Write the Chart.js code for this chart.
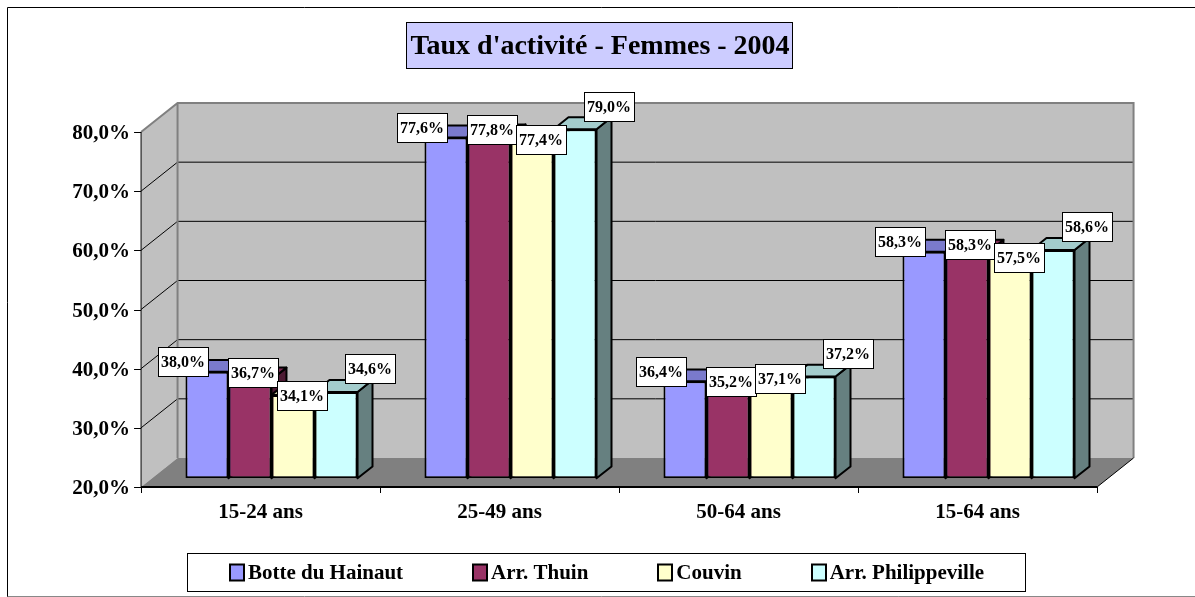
<!DOCTYPE html>
<html lang="fr">
<head>
<meta charset="utf-8">
<title>Taux d'activité - Femmes - 2004</title>
<script src="https://cdn.jsdelivr.net/npm/chart.js@4.4.1/dist/chart.umd.min.js"></script>
<style>
  html, body { margin: 0; padding: 0; background: #fff; }
  #wrap { width: 1195px; height: 597px; }
</style>
</head>
<body>
<div id="wrap"><canvas id="chart" width="1195" height="597"></canvas></div>
<script>
// ---------- DATA ----------
const chartTitle = "Taux d'activité - Femmes - 2004";
const categories = ["15-24 ans", "25-49 ans", "50-64 ans", "15-64 ans"];
const seriesNames = ["Botte du Hainaut", "Arr. Thuin", "Couvin", "Arr. Philippeville"];
const botteDuHainaut = [38.0, 77.6, 36.4, 58.3];
const arrThuin = [36.7, 77.8, 35.2, 58.3];
const couvin = [34.1, 77.4, 37.1, 57.5];
const arrPhilippeville = [34.6, 79.0, 37.2, 58.6];
const yTicks = [20, 30, 40, 50, 60, 70, 80];

// ---------- LOOK ----------
const FONT = '"Liberation Serif", "Times New Roman", serif';
const DEPTH_X = 36.5;   // how far the floor goes back, in px
const DEPTH_Y = -29;
const BAR_FRONT = 0.3;  // bars sit between these depth fractions
const BAR_BACK = 0.71;
const frontColors = ["#9999ff", "#993366", "#ffffcc", "#ccffff"];
const labelNudge = [[-24, -10], [3, -7], [9, 1], [34, -23]]; // per series label offset

function shade(hex, k) {
  const n = parseInt(hex.slice(1), 16);
  const r = Math.round(((n >> 16) & 255) * k);
  const g = Math.round(((n >> 8) & 255) * k);
  const b = Math.round((n & 255) * k);
  return `rgb(${r},${g},${b})`;
}

function fmt(v) {
  return v.toFixed(1).replace(".", ",") + "%";
}

function poly(ctx, pts, fill, stroke, lw) {
  ctx.beginPath();
  ctx.moveTo(pts[0][0], pts[0][1]);
  for (let i = 1; i < pts.length; i++) ctx.lineTo(pts[i][0], pts[i][1]);
  ctx.closePath();
  if (fill) { ctx.fillStyle = fill; ctx.fill(); }
  if (stroke) { ctx.strokeStyle = stroke; ctx.lineWidth = lw || 1; ctx.stroke(); }
}

function line(ctx, x1, y1, x2, y2, color, lw) {
  ctx.beginPath();
  ctx.moveTo(x1, y1);
  ctx.lineTo(x2, y2);
  ctx.strokeStyle = color;
  ctx.lineWidth = lw;
  ctx.stroke();
}

// ---------- 3D SCENE PLUGIN ----------
const scene3d = {
  id: "scene3d",
  beforeDatasetsDraw(chart) {
    const { ctx, chartArea, scales } = chart;
    const y = scales.y, x = scales.x;
    // shift from the bar plane to the front plane
    const fx = -BAR_FRONT * DEPTH_X, fy = -BAR_FRONT * DEPTH_Y;
    const left = chartArea.left + fx, right = chartArea.right + fx;
    const yTop = y.getPixelForValue(yTicks[yTicks.length - 1]) + fy;
    const yBot = y.getPixelForValue(yTicks[0]) + fy;
    const DX = DEPTH_X, DY = DEPTH_Y;

    ctx.save();
    ctx.lineJoin = "miter";

    // walls + floor
    poly(ctx, [[left + DX, yTop + DY], [right + DX, yTop + DY], [right + DX, yBot + DY], [left + DX, yBot + DY]], "#c0c0c0");
    poly(ctx, [[left, yTop], [left + DX, yTop + DY], [left + DX, yBot + DY], [left, yBot]], "#c0c0c0");
    poly(ctx, [[left, yBot], [right, yBot], [right + DX, yBot + DY], [left + DX, yBot + DY]], "#808080");

    // gridlines (side wall diagonal + back wall)
    yTicks.slice(1, -1).forEach((v) => {
      const py = y.getPixelForValue(v) + fy;
      ctx.beginPath();
      ctx.moveTo(left, py);
      ctx.lineTo(left + DX, py + DY);
      ctx.lineTo(right + DX, py + DY);
      ctx.strokeStyle = "#000";
      ctx.lineWidth = 1;
      ctx.stroke();
    });

    // wall outlines
    ctx.beginPath();
    ctx.moveTo(left, yTop);
    ctx.lineTo(left + DX, yTop + DY);
    ctx.lineTo(right + DX, yTop + DY);
    ctx.lineTo(right + DX, yBot + DY);
    ctx.moveTo(left + DX, yTop + DY);
    ctx.lineTo(left + DX, yBot + DY);
    ctx.strokeStyle = "#808080";
    ctx.lineWidth = 2;
    ctx.stroke();

    // floor edges
    line(ctx, right, yBot, right + DX, yBot + DY, "#000", 1);
    line(ctx, left, yBot, right, yBot, "#000", 2);

    // value axis
    line(ctx, left, yTop, left, yBot, "#000", 1);
    ctx.font = "bold 21px " + FONT;
    ctx.fillStyle = "#000";
    ctx.textAlign = "right";
    ctx.textBaseline = "middle";
    yTicks.forEach((v) => {
      const py = Math.round(y.getPixelForValue(v) + fy) + 0.5;
      line(ctx, left - 7, py, left, py, "#000", 1);
      ctx.fillText(fmt(v), left - 11, py + 1);
    });

    // category axis ticks + labels
    const step = (right - left) / categories.length;
    for (let i = 0; i <= categories.length; i++) {
      const px = Math.round(left + i * step) + 0.5;
      line(ctx, px, yBot, px, yBot + 6, "#000", 1);
    }
    ctx.textAlign = "center";
    categories.forEach((c, i) => {
      ctx.fillText(c, x.getPixelForValue(i) + fx, yBot + 26);
    });

    // top + side faces of the bars
    const bx = (BAR_BACK - BAR_FRONT) * DX, by = (BAR_BACK - BAR_FRONT) * DY;
    ctx.lineJoin = "round";
    categories.forEach((c, i) => {
      chart.data.datasets.forEach((ds, d) => {
        const el = chart.getDatasetMeta(d).data[i];
        const p = el.getProps(["x", "y", "base", "width"], true);
        const L = p.x - p.width / 2, R = p.x + p.width / 2;
        const col = frontColors[d];
        poly(ctx, [[R, p.y], [R + bx, p.y + by], [R + bx, p.base + by], [R, p.base]], shade(col, 0.5), "#000", 2);
        poly(ctx, [[L, p.y], [R, p.y], [R + bx, p.y + by], [L + bx, p.y + by]], shade(col, 0.8), "#000", 2);
      });
    });
    ctx.restore();
  },

  afterDatasetsDraw(chart) {
    const { ctx } = chart;
    ctx.save();
    // data labels
    ctx.font = "bold 16px " + FONT;
    ctx.textAlign = "center";
    ctx.textBaseline = "middle";
    chart.data.datasets.forEach((ds, d) => {
      chart.getDatasetMeta(d).data.forEach((el, i) => {
        const p = el.getProps(["x", "y"], true);
        const txt = fmt(ds.data[i]);
        const w = Math.round(ctx.measureText(txt).width) + 6;
        const h = 29;
        const cx = p.x + labelNudge[d][0], cy = p.y + labelNudge[d][1];
        const bxl = Math.round(cx - w / 2) + 0.5, byt = Math.round(cy - h / 2) + 0.5;
        ctx.fillStyle = "#fff";
        ctx.fillRect(bxl, byt, w, h);
        ctx.strokeStyle = "#000";
        ctx.lineWidth = 1;
        ctx.strokeRect(bxl, byt, w, h);
        ctx.fillStyle = "#000";
        ctx.fillText(txt, cx, byt + h / 2 + 1);
      });
    });
    ctx.restore();
  },

  afterDraw(chart) {
    const { ctx } = chart;
    ctx.save();
    // outer frame
    line(ctx, 7.5, 7.5, 1195, 7.5, "#000", 1);
    line(ctx, 7.5, 7.5, 7.5, 597, "#000", 1);
    line(ctx, 7.5, 596.5, 1195, 596.5, "#888", 1);

    // title box
    ctx.fillStyle = "#ccccff";
    ctx.fillRect(406.5, 22.5, 386, 46);
    ctx.strokeStyle = "#000";
    ctx.lineWidth = 1;
    ctx.strokeRect(406.5, 22.5, 386, 46);
    ctx.font = "bold 28px " + FONT;
    ctx.fillStyle = "#000";
    ctx.textAlign = "center";
    ctx.textBaseline = "middle";
    ctx.fillText(chartTitle, 600, 47);

    // legend
    const lx = 187.5, ly = 553.5, lw = 838, lh = 38;
    ctx.fillStyle = "#fff";
    ctx.fillRect(lx, ly, lw, lh);
    ctx.strokeStyle = "#000";
    ctx.strokeRect(lx, ly, lw, lh);
    ctx.font = "bold 21px " + FONT;
    const box = 16, gapText = 3, gapItem = 69;
    const widths = seriesNames.map((s) => box + gapText + ctx.measureText(s).width);
    const total = widths.reduce((a, b) => a + b, 0) + gapItem * (seriesNames.length - 1);
    let px = lx + (lw - total) / 2;
    const cy = ly + lh / 2;
    ctx.textAlign = "left";
    seriesNames.forEach((s, i) => {
      ctx.fillStyle = frontColors[i];
      ctx.fillRect(Math.round(px) + 1, cy - box / 2, box - 2, box);
      ctx.strokeStyle = "#000";
      ctx.lineWidth = 2;
      ctx.strokeRect(Math.round(px) + 1, cy - box / 2, box - 2, box);
      ctx.fillStyle = "#000";
      ctx.fillText(s, px + box + gapText, cy + 1);
      px += widths[i] + gapItem;
    });
    ctx.restore();
  }
};

// ---------- CHART ----------
const seriesValues = [botteDuHainaut, arrThuin, couvin, arrPhilippeville];

new Chart(document.getElementById("chart"), {
  type: "bar",
  data: {
    labels: categories,
    datasets: seriesNames.map((name, i) => ({
      label: name,
      data: seriesValues[i],
      base: yTicks[0],
      backgroundColor: frontColors[i],
      borderColor: "#000",
      borderWidth: 2,
      borderSkipped: false,
      barPercentage: 1,
      categoryPercentage: 0.72
    }))
  },
  options: {
    responsive: false,
    animation: false,
    events: [],
    layout: { padding: { left: 152, right: 87, top: 123.3, bottom: 118.7 } },
    scales: {
      x: { display: false },
      y: { display: false, min: yTicks[0], max: yTicks[yTicks.length - 1] }
    },
    plugins: {
      legend: { display: false },
      tooltip: { enabled: false },
      title: { display: false }
    }
  },
  plugins: [scene3d]
});
</script>
</body>
</html>
